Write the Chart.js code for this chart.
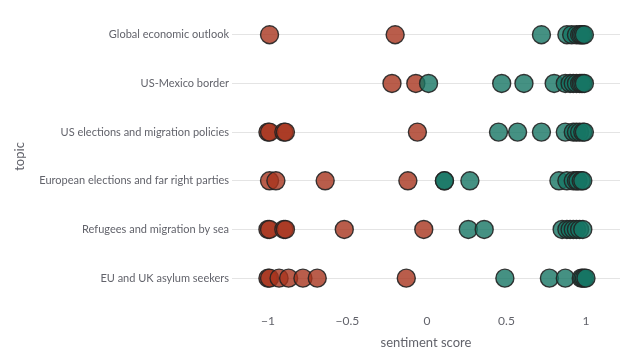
<!DOCTYPE html>
<html>
<head>
<meta charset="utf-8">
<script src="https://cdn.jsdelivr.net/npm/chart.js@4/dist/chart.umd.min.js"></script>
<style>
  html, body { margin: 0; padding: 0; background: #ffffff; }
  #wrap { width: 640px; height: 360px; position: relative; }
</style>
</head>
<body>
<div id="wrap"><canvas id="c" width="640" height="360"></canvas></div>
<script>
// Categories (top to bottom)
const topics = [
  "Global economic outlook",
  "US-Mexico border",
  "US elections and migration policies",
  "European elections and far right parties",
  "Refugees and migration by sea",
  "EU and UK asylum seekers"
];

// Sentiment scores per topic
const globalEconomicOutlook = [-0.99, -0.2, 0.72, 0.88, 0.91, 0.94, 0.96, 0.97, 0.98, 0.99];
const usMexicoBorder = [-0.22, -0.07, 0.01, 0.47, 0.61, 0.80, 0.87, 0.90, 0.92, 0.94, 0.96, 0.97, 0.98, 0.99];
const usElections = [-1.0, -0.99, -0.9, -0.89, -0.06, 0.45, 0.57, 0.72, 0.87, 0.92, 0.94, 0.96, 0.98, 0.99];
const europeanElections = [-0.99, -0.95, -0.64, -0.12, 0.11, 0.11, 0.27, 0.83, 0.88, 0.92, 0.94, 0.95, 0.97, 0.98];
const refugeesSea = [-1.0, -0.99, -0.9, -0.89, -0.52, -0.02, 0.26, 0.36, 0.85, 0.88, 0.90, 0.92, 0.94, 0.96, 0.98];
const euUkAsylum = [-1.0, -0.99, -0.93, -0.87, -0.78, -0.69, -0.13, 0.49, 0.77, 0.87, 0.97, 0.98, 0.99, 1.0];

const seriesByTopic = [globalEconomicOutlook, usMexicoBorder, usElections, europeanElections, refugeesSea, euUkAsylum];

// X-axis tick values and labels
const xTickValues = [-1, -0.5, 0, 0.5, 1];
const xTickLabels = ["\u22121", "\u22120.5", "0", "0.5", "1"];

const points = [];
topics.forEach((t, i) => {
  seriesByTopic[i].forEach(v => points.push({ x: v, y: t }));
});

const NEG = 'rgba(168, 52, 30, 0.8)';
const POS = 'rgba(22, 118, 100, 0.8)';
const FONT = 'Lato, "Open Sans", sans-serif';
const TXT = '#62636b';

new Chart(document.getElementById('c'), {
  type: 'scatter',
  data: {
    datasets: [{
      data: points,
      pointRadius: 9,
      pointHoverRadius: 9,
      borderWidth: 1.4,
      borderColor: 'rgba(35,35,35,0.9)',
      backgroundColor: ctx => (ctx.raw && ctx.raw.x < 0 ? NEG : POS)
    }]
  },
  options: {
    responsive: false,
    animation: false,
    events: [],
    layout: { padding: { left: 0, right: 20, top: 8.5, bottom: 0 } },
    plugins: { legend: { display: false }, tooltip: { enabled: false } },
    scales: {
      x: {
        type: 'linear',
        min: -1.226,
        max: 1.214,
        afterBuildTicks: s => { s.ticks = xTickValues.map(v => ({ value: v })); },
        afterFit: s => { s.height = 57.5; },
        grid: { display: false, drawTicks: false },
        border: { display: false },
        ticks: {
          padding: 11,
          color: TXT,
          font: { family: FONT, size: 12 },
          callback: v => xTickLabels[xTickValues.indexOf(v)]
        },
        title: {
          display: true,
          text: 'sentiment score',
          color: TXT,
          font: { family: FONT, size: 13 },
          padding: { top: 9, bottom: 9 }
        }
      },
      y: {
        type: 'category',
        labels: topics,
        offset: true,
        afterFit: s => { s.width = 232; },
        grid: { color: '#e4e4e4', drawTicks: false, lineWidth: 1 },
        border: { display: false },
        ticks: {
          padding: 3,
          color: TXT,
          font: { family: FONT, size: 11 }
        },
        title: {
          display: true,
          text: 'topic',
          color: TXT,
          font: { family: FONT, size: 13 },
          padding: { top: 12, bottom: 12 }
        }
      }
    }
  }
});
</script>
</body>
</html>
